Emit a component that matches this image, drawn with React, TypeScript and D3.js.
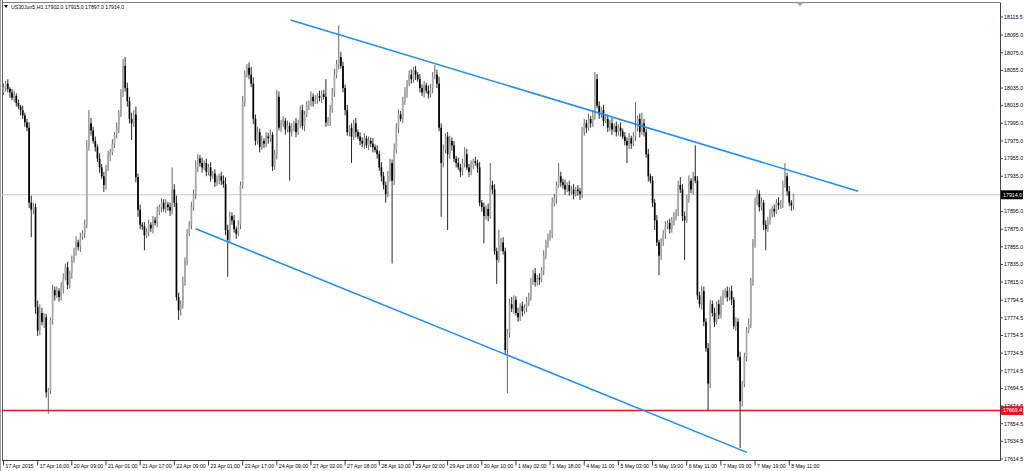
import React from "react";
import * as d3 from "d3";

// ---- data (US30Jun5, H1) ----
const symbolTitle = "US30Jun5,H1";
const lastOHLC = ["17902.0", "17915.0", "17897.0", "17914.0"];
const firstOpen = 18030;

// hourly closes, bar 0 = 17 Apr 2015 00:00
const closes = [
  18036, 18040, 18034, 18030, 18024, 18026, 18018, 18014, 18010, 18004,
  17996, 17990, 17905, 17897, 17900, 17787, 17760, 17780, 17770, 17775,
  17690, 17692, 17772, 17806, 17800, 17805, 17798, 17808, 17820, 17832,
  17812, 17825, 17840, 17850, 17860, 17855, 17866, 17870, 17880, 17968,
  17995, 17987, 17975, 17968, 17955, 17945, 17935, 17925, 17945, 17958,
  17962, 17972, 17982, 17990, 18005, 18030, 18060, 18035, 18020, 18000,
  17995, 18005, 17934, 17897, 17880, 17878, 17868, 17872, 17880, 17876,
  17885, 17882, 17895, 17900, 17905, 17898, 17903, 17900, 17896, 17920,
  17905, 17798, 17783, 17790, 17815, 17840, 17870, 17880, 17900, 17915,
  17945, 17955, 17950, 17945, 17950, 17940, 17945, 17935, 17938, 17928,
  17932, 17935, 17930, 17926, 17874, 17863, 17890, 17885, 17875, 17870,
  17880, 17925, 18020, 18050, 18058, 18050, 18040, 18000, 17975, 17985,
  17968, 17975, 17972, 17980, 17978, 17982, 17946, 17960, 18025, 17990,
  17995, 17998, 17988, 17992, 17985, 17990, 17995, 17985, 17995, 18010,
  17992, 18005, 18015, 18018, 18025, 18020, 18022, 18026, 18024, 18028,
  18025, 17996, 17998, 18010, 18030, 18050, 18062, 18070, 18060, 18035,
  18010, 17985, 17990, 17980, 17995, 17985, 17980, 17975, 17972, 17978,
  17970, 17975, 17972, 17968, 17965, 17960, 17945, 17935, 17925, 17915,
  17935, 17950, 17930, 17965, 17990, 18005, 18000, 18020, 18030, 18040,
  18050, 18045, 18055, 18050, 18045, 18035, 18030, 18038, 18032, 18028,
  18035, 18048, 18050, 18040, 17990, 17950, 17965, 17980, 17960, 17975,
  17970, 17955, 17950, 17945, 17940, 17950, 17960, 17945, 17940, 17948,
  17952, 17950, 17945, 17905, 17900, 17890, 17898, 17890, 17925, 17920,
  17850, 17840, 17855, 17860, 17850, 17738, 17757, 17790, 17785, 17795,
  17780, 17775, 17788, 17782, 17786, 17792, 17800, 17815, 17825, 17815,
  17820, 17818, 17828, 17845, 17860, 17865, 17870, 17905, 17910, 17925,
  17935, 17928, 17925, 17920, 17925, 17918, 17920, 17915, 17920, 17918,
  17915, 17985, 17995, 17990, 18000, 17995, 18005, 18045, 18015, 18005,
  18010, 17998, 18000, 17990, 17995, 17988, 17992, 17985, 17990, 17986,
  17980, 17975, 17970, 17978, 17972, 17980, 17990, 18000, 17985, 17995,
  17985, 17960, 17935, 17930, 17905, 17885, 17860, 17845, 17860, 17870,
  17878, 17882, 17875, 17885, 17888, 17895, 17925, 17920, 17890, 17885,
  17910, 17930, 17920, 17935, 17930, 17800, 17790, 17805, 17770, 17740,
  17700, 17790, 17780, 17770, 17790, 17778, 17795, 17800, 17805, 17798,
  17805, 17795, 17765, 17770, 17730, 17680, 17700, 17730, 17760, 17768,
  17815, 17860, 17905, 17915, 17900, 17905, 17880, 17875, 17885, 17892,
  17898, 17895, 17905, 17902, 17905, 17925, 17935, 17918, 17905, 17902,
  17914,
];

// upper wick length (points above body)
const wickUp = [
  4, 3, 5, 2, 4, 6, 3, 4, 2, 5,
  3, 4, 6, 8, 5, 4, 7, 10, 6, 5,
  4, 3, 3, 6, 4, 5, 3, 7, 5, 4,
  6, 3, 5, 4, 7, 3, 5, 4, 6, 8,
  15, 6, 4, 5, 3, 6, 4, 5, 3, 6,
  4, 5, 3, 6, 5, 4, 8, 10, 6, 5,
  7, 5, 9, 4, 6, 3, 5, 4, 6, 3,
  5, 4, 6, 3, 5, 4, 6, 3, 5, 25,
  6, 8, 5, 4, 6, 3, 5, 4, 6, 5,
  8, 5, 4, 6, 3, 5, 4, 6, 3, 5,
  4, 3, 5, 6, 8, 6, 5, 4, 6, 3,
  5, 4, 6, 5, 4, 6, 9, 7, 5, 6,
  4, 6, 3, 5, 4, 6, 3, 5, 8, 6,
  4, 5, 3, 6, 4, 5, 3, 6, 4, 5,
  6, 4, 5, 3, 6, 4, 5, 3, 6, 4,
  5, 20, 4, 6, 5, 7, 5, 36, 6, 5,
  4, 6, 3, 5, 4, 6, 3, 5, 4, 6,
  3, 5, 4, 6, 3, 5, 4, 6, 5, 4,
  6, 5, 4, 7, 5, 6, 4, 5, 6, 4,
  5, 6, 4, 5, 3, 6, 4, 5, 3, 6,
  4, 5, 11, 6, 8, 5, 6, 4, 5, 6,
  4, 5, 3, 6, 4, 5, 8, 6, 4, 5,
  3, 5, 4, 6, 3, 5, 4, 6, 25, 5,
  6, 4, 19, 5, 6, 4, 5, 6, 8, 5,
  4, 6, 3, 5, 4, 6, 3, 5, 4, 6,
  3, 5, 4, 6, 3, 5, 4, 6, 5, 4,
  15, 5, 4, 6, 3, 5, 4, 6, 3, 5,
  4, 6, 5, 4, 6, 3, 5, 8, 6, 5,
  4, 6, 3, 5, 4, 6, 3, 5, 4, 6,
  3, 5, 4, 6, 3, 5, 29, 4, 6, 12,
  5, 4, 6, 3, 5, 4, 6, 3, 5, 4,
  6, 3, 5, 4, 6, 3, 5, 9, 6, 5,
  4, 6, 3, 5, 35, 5, 4, 6, 5, 4,
  6, 5, 4, 6, 3, 5, 4, 6, 3, 5,
  4, 6, 3, 5, 4, 6, 3, 5, 4, 6,
  5, 4, 6, 5, 4, 6, 3, 5, 4, 6,
  3, 5, 4, 6, 3, 5, 15, 4, 6, 3,
  1,
];

// lower wick length (points below body)
const wickDn = [
  3, 5, 4, 6, 3, 5, 4, 3, 6, 4,
  5, 4, 6, 31, 5, 8, 6, 5, 4, 7,
  6, 24, 4, 5, 6, 3, 5, 4, 6, 3,
  5, 4, 6, 3, 5, 4, 6, 3, 5, 4,
  4, 6, 3, 5, 4, 6, 3, 8, 5, 4,
  6, 3, 5, 4, 6, 3, 5, 4, 6, 5,
  19, 4, 6, 8, 5, 4, 17, 3, 5, 4,
  6, 3, 5, 4, 6, 3, 5, 4, 6, 4,
  5, 4, 11, 6, 5, 4, 6, 3, 5, 4,
  6, 5, 4, 6, 3, 5, 4, 6, 3, 5,
  4, 6, 5, 4, 6, 42, 3, 5, 4, 6,
  3, 5, 4, 6, 3, 5, 4, 6, 5, 4,
  6, 3, 5, 4, 6, 4, 5, 4, 6, 3,
  5, 4, 6, 3, 55, 5, 4, 6, 3, 5,
  4, 6, 3, 5, 4, 6, 3, 5, 4, 6,
  3, 5, 4, 6, 3, 5, 4, 6, 3, 5,
  6, 4, 5, 30, 4, 6, 3, 5, 4, 6,
  3, 5, 4, 6, 3, 5, 4, 6, 5, 10,
  4, 6, 94, 5, 4, 6, 3, 5, 4, 6,
  3, 5, 4, 6, 3, 5, 4, 6, 3, 5,
  4, 6, 3, 5, 4, 61, 5, 4, 86, 5,
  6, 4, 5, 3, 6, 4, 5, 3, 6, 4,
  5, 3, 6, 4, 5, 31, 4, 6, 3, 5,
  4, 27, 3, 5, 4, 6, 49, 5, 4, 6,
  3, 5, 4, 6, 3, 5, 4, 6, 3, 5,
  4, 6, 3, 5, 4, 6, 3, 5, 4, 6,
  3, 5, 4, 6, 3, 5, 4, 6, 3, 5,
  7, 5, 4, 6, 3, 5, 4, 6, 3, 5,
  4, 6, 3, 5, 4, 6, 3, 5, 4, 6,
  3, 5, 20, 4, 6, 3, 5, 4, 6, 3,
  5, 4, 6, 3, 5, 11, 4, 22, 5, 4,
  6, 3, 5, 4, 6, 3, 5, 4, 6, 45,
  3, 5, 4, 6, 3, 5, 4, 6, 5, 4,
  30, 5, 4, 6, 3, 5, 4, 6, 3, 5,
  4, 6, 3, 5, 4, 53, 6, 4, 5, 3,
  5, 4, 6, 3, 5, 4, 6, 24, 3, 5,
  4, 6, 3, 5, 4, 6, 3, 5, 4, 6,
  5,
];

const timeLabels = [
  "17 Apr 2015", "17 Apr 16:00", "20 Apr 09:00", "21 Apr 01:00", "21 Apr 17:00",
  "22 Apr 09:00", "23 Apr 01:00", "23 Apr 17:00", "24 Apr 09:00", "27 Apr 02:00",
  "27 Apr 18:00", "28 Apr 10:00", "29 Apr 02:00", "29 Apr 18:00", "30 Apr 10:00",
  "1 May 02:00", "1 May 18:00", "4 May 11:00", "5 May 03:00", "5 May 19:00",
  "6 May 11:00", "7 May 03:00", "7 May 19:00", "8 May 11:00",
];
const timeLabelStep = 16;

const priceTicks = [
  18115.5, 18095.0, 18075.0, 18055.0, 18035.0, 18015.0, 17995.0, 17975.0,
  17955.0, 17935.0, 17895.0, 17875.0, 17855.0, 17835.0, 17815.0, 17794.5,
  17774.5, 17754.5, 17734.5, 17714.5, 17694.5, 17674.5, 17654.5, 17634.5,
  17614.5,
];

const bidPrice = 17914.0;
const supportPrice = 17669.4;

// trend lines: [barIndex, price]
const upperTrend = [[134.4, 18112], [400.3, 17918]];
const lowerTrend = [[90.0, 17875.5], [348.2, 17622]];

// ---- layout ----
const W = 1024;
const H = 471;
const plotLeft = 2;
const plotRight = 1000;
const plotTop = 2.5;
const plotBottom = 460.5;

export default function App() {
  const x = d3.scaleLinear().domain([0, 370]).range([3.5, 793.5]);
  const y = d3.scaleLinear().domain([17614.5, 18115.5]).range([459, 17]);

  const bars = closes.map((c, i) => {
    const o = i === 0 ? firstOpen : closes[i - 1];
    const top = Math.max(o, c);
    const bot = Math.min(o, c);
    const h = top + (wickUp[i] ?? 3);
    const l = bot - (wickDn[i] ?? 3);
    return { i, o, c, h, l };
  });

  const font = "'Liberation Sans', Arial, sans-serif";
  const line = d3.line<number[]>().x((d) => x(d[0])).y((d) => y(d[1]));

  return (
    <svg
      width={W}
      height={H}
      style={{ position: "fixed", left: 0, top: 0, background: "#fff" }}
    >
      <rect x={0} y={0} width={W} height={H} fill="#fff" />
      <defs>
        <clipPath id="plot">
          <rect x={plotLeft} y={plotTop} width={plotRight - plotLeft} height={plotBottom - plotTop} />
        </clipPath>
      </defs>

      {/* window frame */}
      <line x1={0.5} y1={0} x2={0.5} y2={H} stroke="#a0a0a0" />
      <line x1={2.5} y1={0} x2={2.5} y2={plotBottom} stroke="#606060" />
      <line x1={plotLeft} y1={plotTop} x2={plotRight} y2={plotTop} stroke="#808080" />
      <line x1={plotRight + 0.5} y1={plotTop} x2={plotRight + 0.5} y2={plotBottom} stroke="#404040" />
      <line x1={plotLeft} y1={plotBottom} x2={plotRight + 0.5} y2={plotBottom} stroke="#404040" />

      {/* chart shift marker */}
      <path d="M797,2.5 L803,2.5 L800,6 Z" fill="#9a9a9a" />

      <g clipPath="url(#plot)">
        {/* bid line */}
        <line x1={plotLeft} x2={plotRight} y1={y(bidPrice)} y2={y(bidPrice)} stroke="#c8c8c8" strokeWidth={1} />
        {/* support line */}
        <line x1={plotLeft} x2={plotRight} y1={y(supportPrice)} y2={y(supportPrice)} stroke="#e8141e" strokeWidth={1.4} />

        {/* candles */}
        {bars.map((b) => {
          const bull = b.c >= b.o;
          const cx = x(b.i);
          const yTop = y(Math.max(b.o, b.c));
          const yBot = y(Math.min(b.o, b.c));
          return (
            <g key={b.i}>
              <line x1={cx} x2={cx} y1={y(b.h)} y2={y(b.l)} stroke={bull ? "#555" : "#111"} strokeWidth={0.9} />
              <rect
                x={cx - 0.85}
                y={yTop}
                width={1.7}
                height={Math.max(0.8, yBot - yTop)}
                fill={bull ? "#a8a8a8" : "#000"}
              />
            </g>
          );
        })}

        {/* trend lines */}
        <path d={line(upperTrend) || ""} stroke="#1e8ef0" strokeWidth={1.6} fill="none" />
        <path d={line(lowerTrend) || ""} stroke="#1e8ef0" strokeWidth={1.6} fill="none" />
      </g>

      {/* title */}
      <path d="M4,5 L8,5 L6,8 Z" fill="#000" />
      <text x={11} y={8.8} fontFamily={font} fontSize={5.2} fill="#000">
        {symbolTitle + "  " + lastOHLC.join(" ")}
      </text>

      {/* price axis */}
      {priceTicks.map((p) => (
        <g key={p}>
          <line x1={plotRight} x2={plotRight + 3} y1={y(p)} y2={y(p)} stroke="#404040" />
          <text x={1004} y={y(p) + 1.8} fontFamily={font} fontSize={5.3} fill="#000">
            {p.toFixed(1)}
          </text>
        </g>
      ))}
      <rect x={1001} y={y(bidPrice) - 4.5} width={22} height={9} fill="#000" />
      <text x={1003} y={y(bidPrice) + 1.9} fontFamily={font} fontSize={5.3} fill="#fff">
        {bidPrice.toFixed(1)}
      </text>
      <rect x={1001} y={y(supportPrice) - 4.5} width={22} height={9} fill="#e8141e" />
      <text x={1003} y={y(supportPrice) + 1.9} fontFamily={font} fontSize={5.3} fill="#fff">
        {supportPrice.toFixed(1)}
      </text>

      {/* time axis */}
      {timeLabels.map((t, k) => {
        const tx = x(k * timeLabelStep);
        return (
          <g key={t}>
            <line x1={tx} x2={tx} y1={plotBottom} y2={plotBottom + 5} stroke="#404040" />
            <text x={tx + 2} y={468} fontFamily={font} fontSize={5.2} fill="#000">
              {t}
            </text>
          </g>
        );
      })}
    </svg>
  );
}
